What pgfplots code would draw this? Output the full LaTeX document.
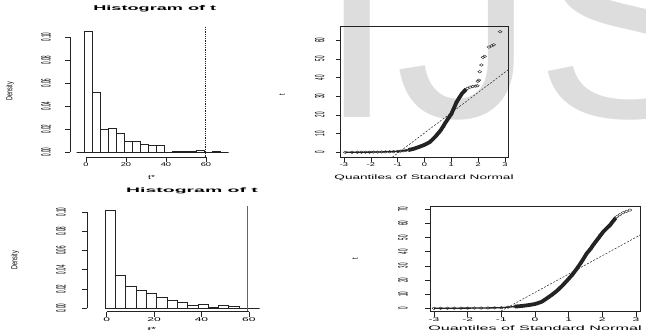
\documentclass[border=0pt]{standalone}
\usepackage{graphicx}
\usepackage{pgfplots}
\pgfplotsset{compat=1.18}
\usepackage{fontspec}
\setmainfont{Liberation Sans}
\newfontfamily\wa[FakeStretch=1.7]{Liberation Sans}
\newfontfamily\wb[FakeStretch=2.2]{Liberation Sans}
\newfontfamily\la[FakeStretch=2.1]{Liberation Sans}
\newfontfamily\lb[FakeStretch=2.5]{Liberation Sans}
\newfontfamily\ta[FakeStretch=2.6]{Liberation Sans Bold}
\newfontfamily\tb[FakeStretch=3.0]{Liberation Sans Bold}
\definecolor{wm}{RGB}{221,221,221}
\definecolor{ink}{RGB}{35,35,35}
\newcommand\yt[1]{\scalebox{1}[3.0]{\fontsize{4.5}{4.5}\selectfont #1}}
\newcommand\yl[1]{\scalebox{1}[1.6]{\fontsize{5.5}{5.5}\selectfont #1}}
\pgfplotsset{
  rstyle/.style={scale only axis, anchor=south west, tick align=outside,
    major tick length=5bp, tick style={line width=0.6bp, ink},
    yticklabel style={rotate=90, anchor=south, inner sep=1bp},
    xticklabel style={inner sep=0.5bp},
    title style={anchor=center},
    xlabel style={anchor=center, inner sep=0pt},
    ylabel style={anchor=center, inner sep=0pt}},
  histo/.style={axis x line*=bottom, axis y line*=left, axis line style={draw=none},
    ytick={0,0.02,0.04,0.06,0.08,0.1},
    yticklabels={\yt{0.00},\yt{0.02},\yt{0.04},\yt{0.06},\yt{0.08},\yt{0.10}},
    xtick={0,20,40,60}, xticklabels={0,20,40,60}},
  qq/.style={tick pos=left, axis line style={line width=0.7bp, ink},
    xmin=-3.12, xmax=3.12,
    xtick={-3,-2,-1,0,1,2,3}, xticklabels={-3,-2,-1,0,1,2,3}}
}
\begin{document}
\begin{tikzpicture}
\path[use as bounding box] (0,0) rectangle (646bp,330bp);
\clip (0,0) rectangle (646bp,330bp);
% watermark
\node[anchor=base west, inner sep=0pt, text=wm, font=\fontsize{280}{280}\selectfont] at (318bp,212bp) {IJS};

% ---------- top-left histogram
\begin{axis}[rstyle, histo, at={(70bp,172.8bp)}, width=160bp, height=130.55bp,
  xmin=-8, xmax=72, ymin=-0.0045, ymax=0.109,
  yticklabel shift=13bp,
  xticklabel style={font=\wa\fontsize{5.5}{5.5}\selectfont},
  title={Histogram of t}, title style={font=\ta\fontsize{7}{7}\selectfont, at={(axis description cs:0.53,1.089)}},
  xlabel={t*}, xlabel style={font=\wa\fontsize{6}{6}\selectfont, at={(axis description cs:0.51,-0.155)}},
  ylabel={\yl{Density}}, ylabel style={at={(axis description cs:-0.375,0.507)}}]
\addplot[ybar interval, draw=ink, fill=white, line width=0.6bp] coordinates {
(-4.7,0) (-0.7,0.105) (3.3,0.052) (7.3,0.0194) (11.3,0.0209) (15.3,0.016) (19.3,0.0093)
(23.3,0.0093) (27.3,0.0070) (31.3,0.0058) (35.3,0.0058) (39.3,0) (43.3,0.001) (47.3,0.0005)
(51.3,0.001) (55.3,0.0015) (59.3,0) (63.3,0.0003) (67.3,0) (71.3,0)};
\addplot[densely dotted, line width=0.8bp, ink] coordinates {(59.5,-0.0045) (59.5,0.109)};
\draw[line width=0.7bp, ink] (axis cs:0,-0.0045) -- (axis cs:60,-0.0045);
\draw[line width=0.7bp, ink] (axis cs:-8,0) -- (axis cs:-8,0.1);
\end{axis}

% ---------- bottom-left histogram
\begin{axis}[rstyle, histo, at={(87bp,18.3bp)}, width=185.6bp, height=105.5bp,
  xmin=-8.3, xmax=70, ymin=-0.0035, ymax=0.106,
  yticklabel shift=15bp,
  xticklabel style={font=\wb\fontsize{5.5}{5.5}\selectfont},
  title={Histogram of t}, title style={font=\tb\fontsize{6.5}{6.5}\selectfont, at={(axis description cs:0.566,1.087)}},
  xlabel={t*}, xlabel style={font=\wb\fontsize{6}{6}\selectfont, at={(axis description cs:0.35,-0.17)}},
  ylabel={\yl{Density}}, ylabel style={at={(axis description cs:-0.388,0.49)}}]
\addplot[ybar interval, draw=ink, fill=white, line width=0.6bp] coordinates {
(-0.7,0.102) (3.65,0.0339) (8.0,0.0225) (12.35,0.0183) (16.7,0.0156) (21.05,0.0111)
(25.4,0.0083) (29.75,0.0059) (34.1,0.0030) (38.45,0.0040) (42.8,0.0010) (47.15,0.0028)
(51.5,0.0024) (55.85,0) (60.2,0) (64.55,0)};
\addplot[line width=0.9bp, ink!70] coordinates {(59.2,-0.0035) (59.2,0.106)};
\draw[line width=0.7bp, ink] (axis cs:0,-0.0035) -- (axis cs:60,-0.0035);
\draw[line width=0.7bp, ink] (axis cs:-8.3,0) -- (axis cs:-8.3,0.1);
\end{axis}

% ---------- top-right QQ
\begin{axis}[rstyle, qq, at={(340.8bp,173bp)}, width=167.4bp, height=130.9bp,
  ymin=-2.5, ymax=67.5,
  yticklabel shift=10bp,
  ytick={0,10,20,30,40,50,60},
  yticklabels={\yt{0},\yt{10},\yt{20},\yt{30},\yt{40},\yt{50},\yt{60}},
  xticklabel style={font=\wa\fontsize{5.5}{5.5}\selectfont},
  xlabel={Quantiles of Standard Normal}, xlabel style={font=\la\fontsize{6.5}{6.5}\selectfont, at={(axis description cs:0.497,-0.158)}},
  ylabel={\yl{t}}, ylabel style={at={(axis description cs:-0.351,0.474)}}]
\addplot[ink, line width=1.3bp] coordinates {
(-2.95,0.02) (-2.5,0.05) (-2.05,0.1) (-1.6,0.2) (-1.15,0.4) (-0.8,0.8) (-0.6,1.2)};
\addplot[ink, line width=3.8bp, line join=round] coordinates {
(-0.6,1.2) (-0.4,1.9) (-0.2,2.9) (0,4.0) (0.2,5.5) (0.4,8.3) (0.6,11.7) (0.8,16.3)
(1.0,20.5) (1.2,27) (1.4,31.5) (1.55,33.7)};
\addplot[only marks, mark=o, mark size=1.3bp, mark options={xscale=1.5, line width=0.4bp, ink}] coordinates {
(-2.95,0.02) (-2.7,0.03) (-2.5,0.05) (-2.35,0.06) (-2.2,0.08) (-2.05,0.1) (-1.9,0.12)
(-1.75,0.15) (-1.6,0.2) (-1.45,0.25) (-1.3,0.32) (-1.15,0.4) (-1.0,0.5) (-0.9,0.65)
(-0.8,0.8) (-0.7,1.0) (-0.6,1.2) (-0.5,1.5) (-0.4,1.9) (-0.3,2.4) (-0.2,2.9) (-0.1,3.4)
(0,4.0) (0.1,4.7) (0.2,5.5) (0.3,6.8) (0.4,8.3) (0.5,10) (0.6,11.7) (0.7,13.6) (0.8,16.3)
(0.9,18.5) (1.0,20.5) (1.1,23.5) (1.2,27) (1.3,29.5) (1.4,31.5) (1.5,33.2) (1.6,34.2)
(1.7,34.9) (1.8,35.2) (1.9,35.4) (1.97,35.6) (1.99,38.0) (2.03,38.6) (2.06,43.1)
(2.12,46.7) (2.18,50.8) (2.24,51.3) (2.4,56.3) (2.5,56.9) (2.58,57.5) (2.82,64.5)};
\addplot[ink, line width=0.5bp, dash pattern=on 2bp off 1.5bp] coordinates {(-1.2,-2.64) (3.12,44.15)};
\end{axis}

% ---------- bottom-right QQ
\begin{axis}[rstyle, qq, at={(430bp,18.2bp)}, width=210bp, height=105bp,
  ymin=-2.5, ymax=71.8,
  yticklabel shift=16bp,
  ytick={0,10,20,30,40,50,60,70},
  yticklabels={\yt{0},\yt{10},\yt{20},\yt{30},\yt{40},\yt{50},\yt{60},\yt{70}},
  xticklabel style={font=\wb\fontsize{5.5}{5.5}\selectfont},
  xlabel={Quantiles of Standard Normal}, xlabel style={font=\lb\fontsize{6.5}{6.5}\selectfont, at={(axis description cs:0.5,-0.165)}},
  ylabel={\yl{t}}, ylabel style={at={(axis description cs:-0.357,0.503)}}]
\addplot[ink, line width=1.3bp] coordinates {
(-3.0,0) (-2.5,0.05) (-2.0,0.1) (-1.5,0.2) (-1.0,0.4) (-0.6,1.2)};
\addplot[ink, line width=3.8bp, line join=round] coordinates {
(-0.6,1.2) (-0.4,1.6) (-0.2,2.2) (0,3.0) (0.2,4.6) (0.35,7) (0.5,9.5) (0.65,12.3)
(0.8,15.7) (0.95,19.5) (1.1,23.5) (1.25,28.2) (1.4,33.5) (1.54,38.9) (1.65,42)
(1.73,44.8) (1.88,49.5) (2.03,54.2) (2.23,58.9) (2.4,64)};
\addplot[only marks, mark=o, mark size=1.3bp, mark options={xscale=1.5, line width=0.4bp, ink}] coordinates {
(-3.0,0) (-2.8,0.02) (-2.6,0.04) (-2.4,0.05) (-2.2,0.07) (-2.0,0.1) (-1.8,0.13) (-1.6,0.17)
(-1.4,0.22) (-1.2,0.3) (-1.0,0.4) (-0.8,0.8) (-0.6,1.2) (-0.4,1.6) (-0.2,2.2) (0,3.0)
(0.2,4.6) (0.35,7) (0.5,9.5) (0.65,12.3) (0.8,15.7) (0.95,19.5) (1.1,23.5) (1.25,28.2)
(1.4,33.5) (1.54,38.9) (1.65,42) (1.73,44.8) (1.8,47) (1.88,49.5) (1.95,52) (2.03,54.2)
(2.13,56.5) (2.23,58.9) (2.33,62) (2.43,64.8) (2.52,66.2) (2.62,67.6) (2.72,68.6) (2.82,69.5)};
\addplot[ink, line width=0.5bp, dash pattern=on 2bp off 1.5bp] coordinates {(-1.1,-3.1) (3.12,51.76)};
\end{axis}
\end{tikzpicture}
\end{document}
